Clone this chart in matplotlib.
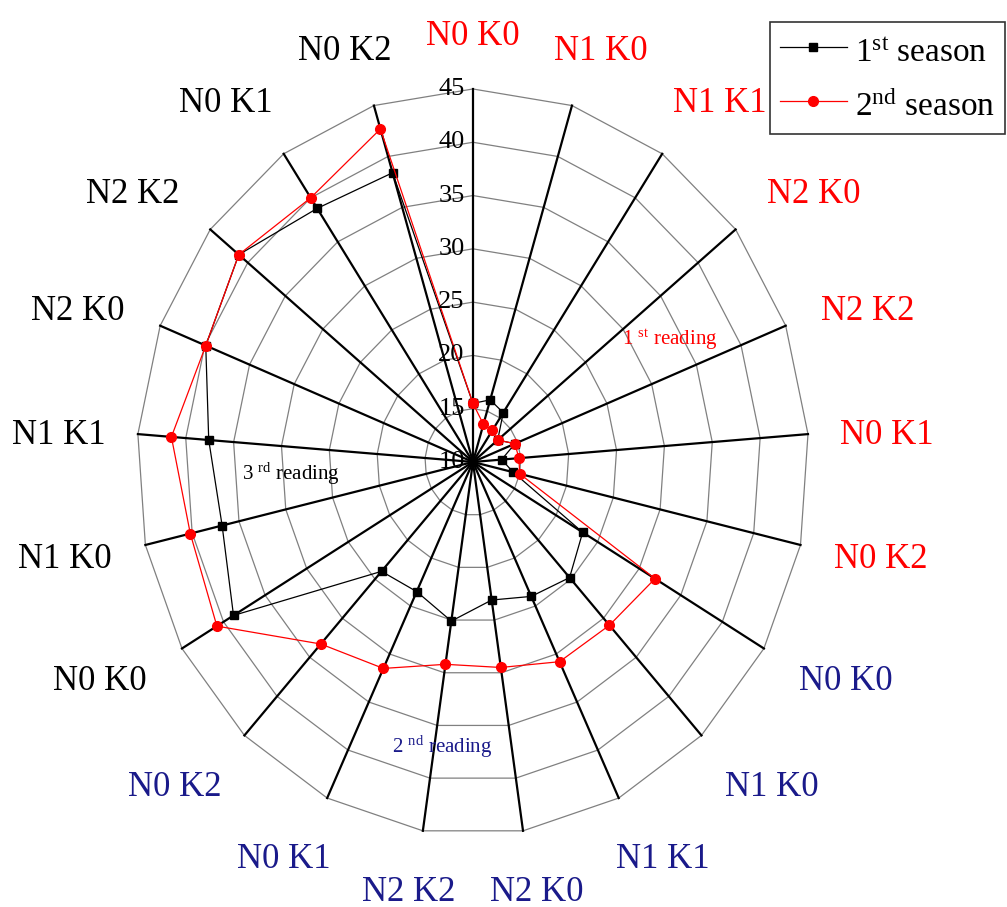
import numpy as np
from matplotlib import pyplot as plt

plt.rcParams['font.family'] = ['Liberation Serif', 'DejaVu Serif']
plt.rcParams['mathtext.fontset'] = 'custom'
plt.rcParams['mathtext.rm'] = 'Liberation Serif'
plt.rcParams['mathtext.it'] = 'Liberation Serif:italic'

treatments = ["N0 K0", "N1 K0", "N1 K1", "N2 K0", "N2 K2", "N0 K1", "N0 K2"]
categories = treatments * 3
reading_colors = ["#ff0000", "#1a1a8a", "#000000"]

# values clockwise from the top spoke: 1st reading, 2nd reading, 3rd reading
season1 = [15.5, 16.1, 15.6, 13.3, 14.7, 13.0, 14.3,
           23.2, 24.8, 24.0, 23.1, 25.1, 23.5, 24.0,
           38.8, 36.8, 37.6, 39.9, 41.2, 38.8, 38.4]
season2 = [15.5, 13.7, 13.6, 13.3, 14.7, 14.8, 15.0,
           31.9, 30.9, 30.8, 29.5, 29.2, 31.5, 33.3,
           40.8, 40.2, 41.5, 39.9, 41.2, 40.0, 42.7]

r_ticks = [10, 15, 20, 25, 30, 35, 40, 45]
rmin, rmax = 10, 45

n = len(categories)
theta = np.arange(n) * 2 * np.pi / n
theta_closed = np.append(theta, theta[0])

fig = plt.figure(figsize=(10.07, 9.07), dpi=100)
ax = fig.add_axes([0.1360, 0.0794, 0.6673, 0.8225], projection='polar')
ax.set_aspect('auto')
ax.set_theta_zero_location('N')
ax.set_theta_direction(-1)
ax.set_ylim(rmin, rmax)
ax.set_xticks([])
ax.set_yticks([])
ax.grid(False)
ax.spines['polar'].set_visible(False)
ax.patch.set_visible(False)

# polygon grid
for r in r_ticks[1:]:
    ax.plot(theta_closed, [r] * len(theta_closed), color='#808080', lw=0.9,
            clip_on=False, zorder=1)
# spokes
for t in theta:
    ax.plot([t, t], [rmin, rmax], color='black', lw=1.6, clip_on=False, zorder=2)

# radial tick labels
for r in r_ticks:
    ax.annotate(str(r), xy=(0, r), xytext=(-6, 0), textcoords='offset points',
                ha='right', va='center', fontsize=19, zorder=5)

s1 = np.append(season1, season1[0])
s2 = np.append(season2, season2[0])
ax.plot(theta_closed, s1, '-s', color='black', lw=0.9, ms=6, zorder=3,
        label=r"1$^{\mathrm{st}}$ season", clip_on=False)
ax.plot(theta_closed, s2, '-o', color='#ff0000', lw=0.9, ms=7, zorder=4,
        label=r"2$^{\mathrm{nd}}$ season", clip_on=False)

# category labels, placed on a ring around the centre (offset in points)
for i, (t, name) in enumerate(zip(theta, categories)):
    dist = (430 + 12 * np.sin(2 * t) ** 2 - 15 * np.sin(t) ** 4) * 0.72
    ax.annotate(name, xy=(t, rmin),
                xytext=(dist * np.sin(t), dist * np.cos(t) - 3),
                textcoords='offset points', ha='center', va='center',
                fontsize=25, color=reading_colors[i // 7])

# reading annotations
fig.text(670 / 1007, 1 - 340 / 907, r"1 $^{\mathrm{st}}$ reading", color='#ff0000',
         fontsize=15, ha='center', va='center')
fig.text(442 / 1007, 1 - 747 / 907, r"2 $^{\mathrm{nd}}$ reading", color='#1a1a8a',
         fontsize=15, ha='center', va='center')
fig.text(291 / 1007, 1 - 474 / 907, r"3 $^{\mathrm{rd}}$ reading", color='black',
         fontsize=15, ha='center', va='center')

leg = fig.legend(loc='upper right', bbox_to_anchor=(1005 / 1007, 1 - 22 / 907),
                 fontsize=24, frameon=True, fancybox=False, handlelength=2.0,
                 handleheight=1.4, handletextpad=0.25, labelspacing=0.45,
                 borderpad=0.3, borderaxespad=0)
leg.get_frame().set_edgecolor('black')
leg.get_frame().set_linewidth(1.2)

plt.savefig("out.png", dpi=100)
